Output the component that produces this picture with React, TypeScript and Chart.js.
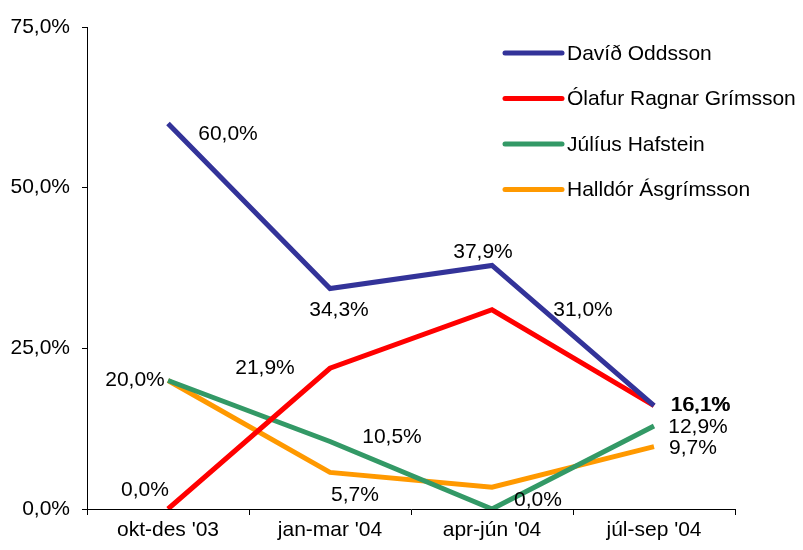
import React, { useEffect, useRef } from "react";
import { Chart, registerables } from "chart.js";

Chart.register(...registerables);

const categories = ["okt-des '03", "jan-mar '04", "apr-jún '04", "júl-sep '04"];
const seriesNames = ["Davíð Oddsson", "Ólafur Ragnar Grímsson", "Júlíus Hafstein", "Halldór Ásgrímsson"];
const david = [60.0, 34.3, 37.9, 16.1];
const olafur = [0.0, 21.9, 31.0, 16.1];
const julius = [20.0, 10.5, 0.0, 12.9];
const halldor = [20.0, 5.7, 3.4, 9.7];
const yTicks = [0, 25, 50, 75];
// which points carry a value label
const showLabel = [
  [true, true, true, true],
  [true, true, true, true],
  [true, true, true, true],
  [false, true, false, true],
];

const colors = ["#333399", "#FF0000", "#339966", "#FF9900"];
// label offsets (px) from each point: styling only
const labelOffsets = [
  [[60, 11], [9, 22], [-9, -13], [46, 0]],
  [[-23, -19], [-65, 0], [91, 0], [47, 0]],
  [[-33, 0], [62, -4], [46, -9], [44, 1]],
  [[-33, 0], [25, 23], [0, 0], [39, 2]],
];

const FONT = "'Liberation Sans', Arial, sans-serif";
const SIZE = 21;
const fmt = (v: number) => v.toFixed(1).replace(".", ",") + "%";

export default function App() {
  const ref = useRef<HTMLCanvasElement | null>(null);
  useEffect(() => {
    document.body.style.margin = "0";
    const canvas = ref.current;
    if (!canvas) return;

    const labelPlugin = {
      id: "valueLabels",
      afterDatasetsDraw(chart: any) {
        const ctx = chart.ctx;
        ctx.save();
        ctx.font = `${SIZE}px ${FONT}`;
        ctx.fillStyle = "#000";
        ctx.textAlign = "center";
        ctx.textBaseline = "middle";
        chart.data.datasets.forEach((ds: any, i: number) => {
          const meta = chart.getDatasetMeta(i);
          meta.data.forEach((pt: any, j: number) => {
            if (!showLabel[i][j]) return;
            const [dx, dy] = labelOffsets[i][j];
            ctx.fillText(fmt(ds.data[j]), pt.x + dx, pt.y + dy);
          });
        });
        ctx.restore();
      },
      afterDraw(chart: any) {
        const ctx = chart.ctx;
        ctx.save();
        const x0 = 505, x1 = 562, y0 = 53, gap = 45.5;
        chart.data.datasets.forEach((ds: any, i: number) => {
          const y = y0 + i * gap;
          ctx.strokeStyle = ds.borderColor;
          ctx.lineWidth = 5;
          ctx.lineCap = "round";
          ctx.beginPath();
          ctx.moveTo(x0, y);
          ctx.lineTo(x1, y);
          ctx.stroke();
          ctx.fillStyle = "#000";
          ctx.font = `${SIZE}px ${FONT}`;
          ctx.textAlign = "left";
          ctx.textBaseline = "middle";
          ctx.fillText(ds.label, 567, y + 1);
        });
        ctx.restore();
      },
    };

    const data = [david, olafur, julius, halldor];
    const chart = new Chart(canvas, {
      type: "line",
      data: {
        labels: categories,
        datasets: data.map((d, i) => ({
          label: seriesNames[i],
          data: d,
          borderColor: colors[i],
          backgroundColor: colors[i],
          borderWidth: 5,
          pointRadius: 0,
          tension: 0,
          fill: false,
        })),
      },
      options: {
        responsive: false,
        animation: false,
        layout: { padding: { top: 27, right: 68, bottom: 0, left: 0 } },
        plugins: { legend: { display: false }, tooltip: { enabled: false } },
        scales: {
          x: {
            offset: true,
            grid: {
              offset: true,
              drawOnChartArea: false,
              drawTicks: true,
              tickLength: 6,
              color: "#000",
            },
            border: { display: true, color: "#000", width: 1 },
            ticks: { color: "#000", font: { family: FONT, size: SIZE }, padding: 3, maxRotation: 0 },
            afterFit(scale: any) { scale.height = 41; },
          },
          y: {
            min: 0,
            max: 75,
            afterBuildTicks(scale: any) { scale.ticks = yTicks.map((v) => ({ value: v })); },
            grid: { drawOnChartArea: false, drawTicks: true, tickLength: 5, color: "#000" },
            border: { display: true, color: "#000", width: 1 },
            ticks: {
              color: "#000",
              font: { family: FONT, size: SIZE },
              padding: 12,
              callback: (v: any) => fmt(Number(v)),
            },
            afterFit(scale: any) { scale.width = 87; },
          },
        },
      },
      plugins: [labelPlugin],
    });
    return () => chart.destroy();
  }, []);
  return <canvas ref={ref} width={803} height={550} />;
}
